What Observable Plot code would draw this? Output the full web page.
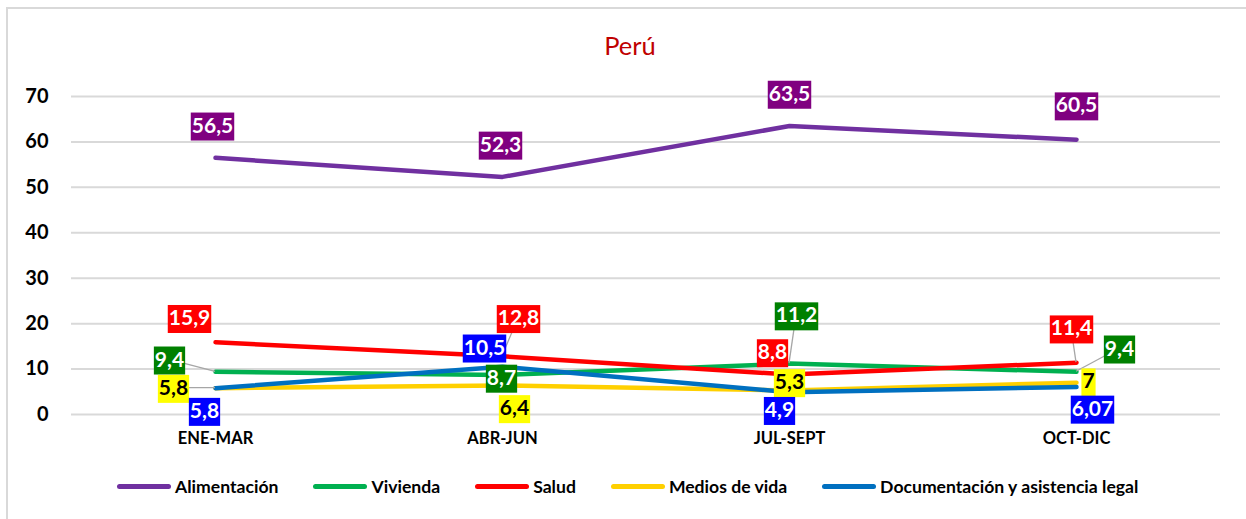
<!DOCTYPE html>
<html>
<head>
<meta charset="utf-8">
<script src="https://cdn.jsdelivr.net/npm/d3@7"></script>
<script src="https://cdn.jsdelivr.net/npm/@observablehq/plot@0.6"></script>
<style>
  body { margin: 0; background: #fff; font-family: Lato, "Noto Sans", sans-serif; }
  #wrap { position: relative; width: 1246px; height: 519px; overflow: hidden; background: #fff; }
  #frame { position: absolute; left: 6px; top: 7px; width: 1260px; height: 530px; border-left: 2px solid #d9d9d9; border-top: 2px solid #d9d9d9; }
  #title { position: absolute; left: 7px; width: 1246px; top: 30px; text-align: center; color: #C00000; font-size: 25.5px; font-family: Lato, sans-serif; }
  #chart { position: absolute; left: 0; top: 60px; }
  #legend { position: absolute; top: 476px; left: 117px; display: flex; align-items: center; font-weight: bold; font-size: 17.6px; color: #000; white-space: nowrap; }
  #legend .item { display: flex; align-items: center; margin-right: 35px; }
  #legend .sw { display: inline-block; width: 54px; height: 5px; border-radius: 3px; margin-right: 4px; }
  #chart g[aria-label="y-axis tick label"] text { font-size: 20px; font-weight: bold; }
  #chart g[aria-label="x-axis tick label"] text { font-size: 16.5px; font-weight: bold; }
</style>
</head>
<body>
<div id="wrap">
  <div id="frame"></div>
  <div id="title">Perú</div>
  <div id="chart"></div>
  <div id="legend"></div>
</div>
<script>
// ---- data ----
const periods = ["ENE-MAR", "ABR-JUN", "JUL-SEPT", "OCT-DIC"];
const seriesNames = ["Alimentación", "Vivienda", "Salud", "Medios de vida", "Documentación y asistencia legal"];
const alimentacion = [56.5, 52.3, 63.5, 60.5];
const vivienda = [9.4, 8.7, 11.2, 9.4];
const salud = [15.9, 12.8, 8.8, 11.4];
const mediosDeVida = [5.8, 6.4, 5.3, 7];
const documentacion = [5.8, 10.5, 4.9, 6.07];
const yTicks = [0, 10, 20, 30, 40, 50, 60, 70];

// ---- styles ----
const lineColors = ["#7030A0", "#00B050", "#FF0000", "#FFD000", "#0070C0"];
const boxColors = ["#800080", "#008000", "#FF0000", "#FFFF00", "#0000FF"];
const textColors = ["#fff", "#fff", "#fff", "#000", "#fff"];
// pixel offsets of each data label from its point [series][period]
const labelOffsets = [
  [[-3, -32], [-2, -32], [0, -32], [0, -34]],
  [[-46, -12], [-1, 3], [7, -48], [43, -23]],
  [[-26, -24], [16, -38], [-17, -22], [-5, -34]],
  [[-42, 0], [12, 23], [0, -8], [12, -1]],
  [[-11, 23], [-18, -19], [-10, 18], [16, 22]]
];
const leaders = [[1, 0], [3, 0], [2, 1], [1, 2], [2, 3], [1, 3]];

const seriesValues = [alimentacion, vivienda, salud, mediosDeVida, documentacion];
const rows = [];
seriesValues.forEach((vals, s) => vals.forEach((v, i) => rows.push({series: seriesNames[s], s, i, period: periods[i], value: v})));
const fmt = v => String(v).replace(".", ",");

const labelMarks = [];
const labelOrder = [];
seriesValues.forEach((vals, s) => vals.forEach((v, i) => {
  const row = rows.find(r => r.s === s && r.i === i);
  labelMarks.push(Plot.text([row], {
    x: "period", y: "value", text: d => fmt(d.value),
    dx: labelOffsets[s][i][0], dy: labelOffsets[s][i][1],
    fill: textColors[s], fontSize: 21, fontWeight: "bold", fontFamily: "Lato, sans-serif"
  }));
  labelOrder.push([s, i]);
}));

const plot = Plot.plot({
  width: 1246,
  height: 400,
  marginLeft: 71,
  marginRight: 26,
  marginTop: 36,
  marginBottom: 46,
  style: {fontFamily: "Lato, sans-serif", color: "#000", background: "transparent", overflow: "visible"},
  x: {type: "point", domain: periods, padding: 0.5, axis: null, label: null},
  y: {domain: [0, 70], axis: null, label: null},
  marks: [
    Plot.ruleY(yTicks, {stroke: "#d9d9d9", strokeWidth: 2}),
    Plot.axisY(yTicks, {tickSize: 0, tickPadding: 23, fontSize: 20, fontWeight: "bold", fill: "#000", label: null}),
    Plot.axisX({tickSize: 0, tickPadding: 18, fontSize: 16.5, fontWeight: "bold", fill: "#000", label: null}),
    ...seriesNames.map((name, s) => Plot.line(rows.filter(r => r.s === s), {
      x: "period", y: "value", stroke: lineColors[s], strokeWidth: 4.5,
      strokeLinecap: "round", strokeLinejoin: "round"
    })),
    ...labelMarks
  ]
});
document.getElementById("chart").appendChild(plot);

// backgrounds behind data labels & leader lines
const xs = plot.scale("x"), ys = plot.scale("y");
const ns = "http://www.w3.org/2000/svg";
const textGroups = Array.from(plot.querySelectorAll(':scope > g[aria-label="text"]'));
const firstText = textGroups[0];
leaders.forEach(([s, i]) => {
  const px = xs.apply(periods[i]), py = ys.apply(seriesValues[s][i]);
  const [dx, dy] = labelOffsets[s][i];
  const line = document.createElementNS(ns, "line");
  line.setAttribute("x1", px + dx); line.setAttribute("y1", py + dy);
  line.setAttribute("x2", px); line.setAttribute("y2", py);
  line.setAttribute("stroke", "#a6a6a6"); line.setAttribute("stroke-width", 1.3);
  plot.insertBefore(line, firstText);
});
textGroups.forEach((g, k) => {
  const [s] = labelOrder[k];
  g.querySelectorAll("text").forEach(t => {
    const bb = t.getBBox();
    const r = document.createElementNS(ns, "rect");
    r.setAttribute("x", bb.x - 1); r.setAttribute("y", bb.y + 1);
    r.setAttribute("width", bb.width + 2); r.setAttribute("height", bb.height + 3);
    r.setAttribute("fill", boxColors[s]);
    const tr = t.getAttribute("transform");
    if (tr) r.setAttribute("transform", tr);
    g.insertBefore(r, t);
  });
});

// legend
const legend = document.getElementById("legend");
seriesNames.forEach((name, s) => {
  const item = document.createElement("div");
  item.className = "item";
  const sw = document.createElement("span");
  sw.className = "sw"; sw.style.background = lineColors[s];
  const tx = document.createElement("span");
  tx.textContent = name;
  item.appendChild(sw); item.appendChild(tx);
  legend.appendChild(item);
});
</script>
</body>
</html>
